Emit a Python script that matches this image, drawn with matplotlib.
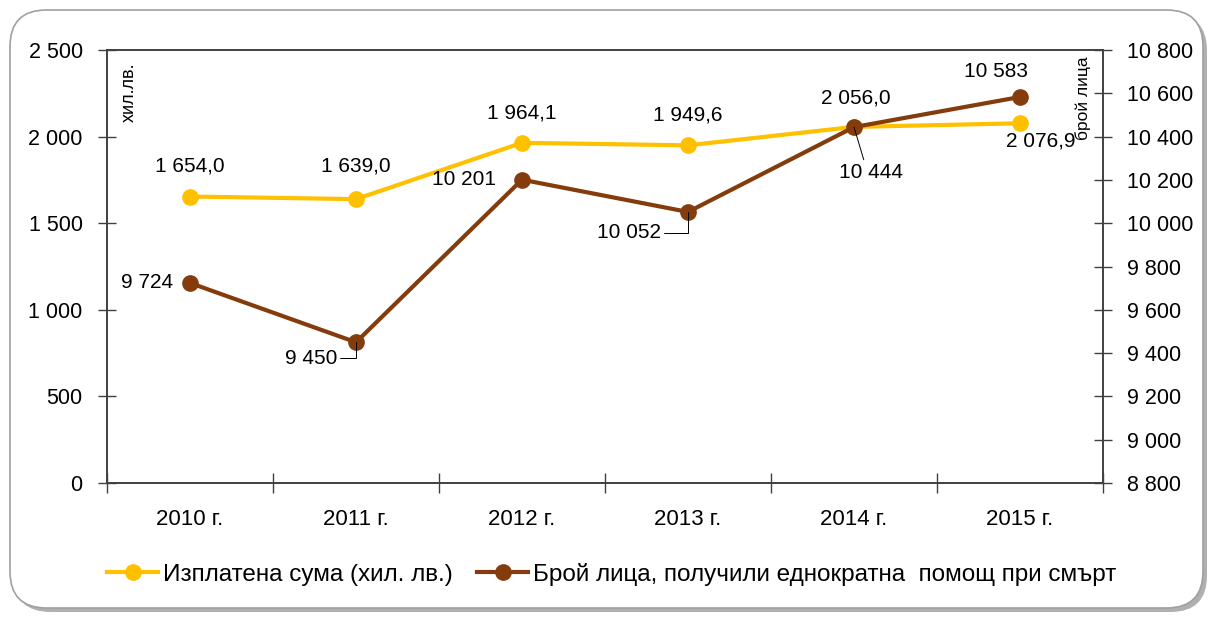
import matplotlib
matplotlib.use("Agg")
import matplotlib.pyplot as plt
import numpy as np
from matplotlib.patches import FancyBboxPatch
from matplotlib.ticker import FuncFormatter, FixedLocator

plt.rcParams['font.family'] = ['Liberation Sans', 'DejaVu Sans']

years = ["2010 г.", "2011 г.", "2012 г.", "2013 г.", "2014 г.", "2015 г."]
paid = [1654.0, 1639.0, 1964.1, 1949.6, 2056.0, 2076.9]
persons = [9724, 9450, 10201, 10052, 10444, 10583]

yellow = "#FFC000"
brown = "#843C0C"
axcol = "#404040"


def fmt_int(v, pos=None):
    return "{:,}".format(int(round(v))).replace(",", " ")


def fmt_dec(v):
    return "{:,.1f}".format(v).replace(",", " ").replace(".", ",")


fig = plt.figure(figsize=(12.15, 6.18), dpi=100)

# rounded frame with a soft shadow
shadow = FancyBboxPatch((14 / 1215, 6 / 618), 1193 / 1215, 598 / 618,
                        boxstyle="round,pad=0,rounding_size=0.03",
                        transform=fig.transFigure, facecolor="#b0b0b0",
                        edgecolor="none", zorder=0, mutation_aspect=1215 / 618)
frame = FancyBboxPatch((10 / 1215, 10 / 618), 1193 / 1215, 598 / 618,
                       boxstyle="round,pad=0,rounding_size=0.03",
                       transform=fig.transFigure, facecolor="white",
                       edgecolor="#a0a0a0", linewidth=1.2, zorder=1,
                       mutation_aspect=1215 / 618)
fig.patches.extend([shadow, frame])

ax = fig.add_axes([107 / 1215, 1 - 483 / 618, (1103 - 107) / 1215, (483 - 50) / 618])
ax.set_zorder(3)
ax.patch.set_alpha(0)
ax2 = ax.twinx()
ax2.set_zorder(4)
ax2.patch.set_alpha(0)

x = np.arange(len(years))
l1, = ax.plot(x, paid, color=yellow, lw=3, marker="o", ms=11, zorder=5,
              label="Изплатена сума (хил. лв.)")
l2, = ax2.plot(x, persons, color=brown, lw=3, marker="o", ms=11, zorder=5,
               label="Брой лица, получили еднократна  помощ при смърт")

ax.set_xlim(-0.5, len(years) - 0.5)
ax.set_ylim(0, 2500)
ax2.set_ylim(8800, 10800)
ax.set_yticks(np.arange(0, 2501, 500))
ax2.set_yticks(np.arange(8800, 10801, 200))
ax.yaxis.set_major_formatter(FuncFormatter(fmt_int))
ax2.yaxis.set_major_formatter(FuncFormatter(fmt_int))

ax.set_xticks(x)
ax.set_xticklabels(years)
ax.xaxis.set_minor_locator(FixedLocator(np.arange(-0.5, len(years), 1.0)))
ax.tick_params(axis="x", which="major", length=0, labelsize=16, pad=19, colors="black")
ax.tick_params(axis="x", which="minor", direction="inout", length=14, width=1, color=axcol)
ax.tick_params(axis="y", direction="inout", length=13, width=1, color=axcol,
               labelsize=15.5, pad=11)
ax2.tick_params(axis="y", direction="inout", length=13, width=1, color=axcol,
                labelsize=15.5, pad=11)

for a in (ax, ax2):
    for s in a.spines.values():
        s.set_color(axcol)
        s.set_linewidth(1.2)

ax.text(0.022, 0.97, "хил.лв.", transform=ax.transAxes, rotation=90,
        ha="center", va="top", fontsize=13)
ax2.text(0.98, 0.985, "брой лица", transform=ax2.transAxes, rotation=90,
         ha="center", va="top", fontsize=12.5)

# data labels
lab_fs = 15
paid_off = [(0, 31), (0, 33), (0, 30), (0, 30), (2, 29), (21, -18)]
for i, (v, off) in enumerate(zip(paid, paid_off)):
    ax.annotate(fmt_dec(v), (x[i], v), xytext=off, textcoords="offset pixels",
                ha="center", va="center", fontsize=lab_fs, zorder=6)

pers_off = [(-43, 0), (-45, -16), (-58, 0), (-59, -21), (17, -45), (-24, 25)]
leader = [False, True, False, True, True, False]
for i, (v, off, ld) in enumerate(zip(persons, pers_off, leader)):
    ap = dict(arrowstyle="-", color="black", lw=0.7, shrinkA=0, shrinkB=0) if ld else None
    if ld and i in (1, 3):
        ap["connectionstyle"] = "angle,angleA=0,angleB=90,rad=0"
        ap["relpos"] = (1, 0.5)
    elif ld:
        ap["relpos"] = (0.4, 1)
    ax2.annotate(fmt_int(v), (x[i], v), xytext=off, textcoords="offset pixels",
                 ha="center", va="center", fontsize=lab_fs, zorder=6,
                 arrowprops=ap)

fig.legend(handles=[l1, l2], loc="center", bbox_to_anchor=(612 / 1215, 1 - 574 / 618),
           ncol=2, frameon=False, fontsize=17.5, handlelength=2.1, columnspacing=1.0,
           handletextpad=0.2)

fig.savefig("out.png", dpi=100)
